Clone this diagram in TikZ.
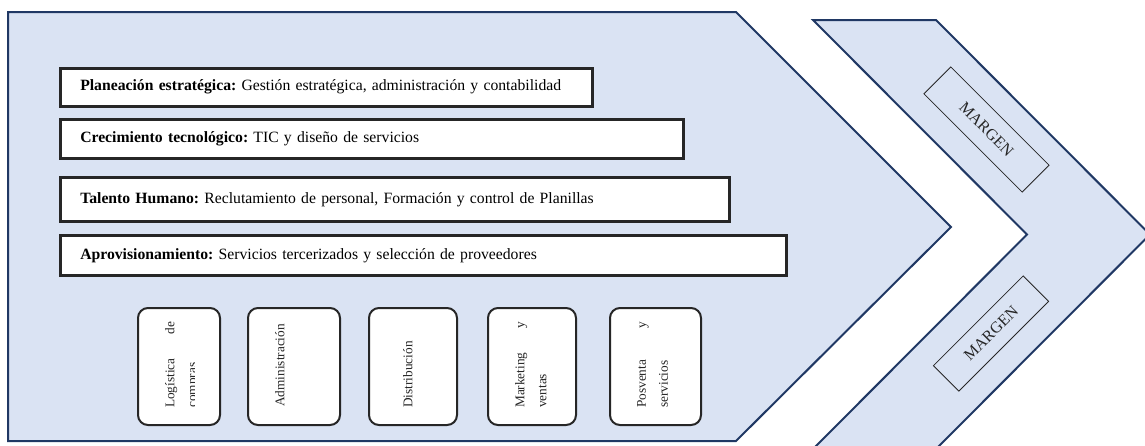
\documentclass[tikz,border=0pt]{standalone}
\usepackage{fontspec}
\setmainfont{Liberation Serif}
\usetikzlibrary{shapes, arrows.meta}
\definecolor{chevfill}{HTML}{DAE3F3}
\definecolor{chevline}{HTML}{203864}
\definecolor{boxline}{HTML}{262626}

\begin{document}
\hyphenpenalty=10000
\frenchspacing
\begin{tikzpicture}[x=1pt, y=-1pt,
    chev/.style={draw=chevline, fill=chevfill, line width=2pt, line join=miter},
    bar/.style={draw=boxline, fill=white, line width=2.5pt, anchor=north west,
        inner xsep=20pt, inner ysep=0pt, align=left, font=\fontsize{15.7}{18}\selectfont},
    actbox/.style={draw=boxline, fill=white, line width=2pt, rounded corners=10pt,
        anchor=north west, inner sep=0pt},
    vtext/.style={rotate=90, anchor=north west, inner sep=0pt, text width=86pt,
        align=justify, text=boxline, font=\fontsize{13.3}{22}\selectfont},
    margen/.style={draw=boxline, line width=0.8pt, inner sep=0pt, text=boxline,
        font=\fontsize{16}{18}\selectfont}]
            \useasboundingbox (0,0) rectangle (1145,445);
            \clip (0,0) rectangle (1145,445);

            % chevrons
            \draw[chev] (8,12) -- (736,12) -- (951,227) -- (736,441) -- (8,441) -- cycle;
            \draw[chev] (813,20) -- (936,20) -- (1150,234.5) -- (936,449) -- (813,449) -- (1027,234.5) -- cycle;

            % support activities
            \node[bar, text width=492pt, minimum height=38pt] (plan) at (59,67)
                {\textbf{Planeación estratégica:} Gestión estratégica, administración y contabilidad};
            \node[bar, text width=583pt, minimum height=39pt] (tec) at (59,118)
                {\textbf{Crecimiento tecnológico:} TIC y diseño de servicios};
            \node[bar, text width=629pt, minimum height=44pt] (talento) at (59,176)
                {\textbf{Talento Humano:} Reclutamiento de personal, Formación y control de Planillas};
            \node[bar, text width=686pt, minimum height=40pt] (aprov) at (59,234)
                {\textbf{Aprovisionamiento:} Servicios tercerizados y selección de proveedores};

            % primary activities
            \node[actbox, minimum width=82pt, minimum height=117pt] (log) at (137,307) {};
            \node[actbox, minimum width=92pt, minimum height=117pt] (adm) at (247,307) {};
            \node[actbox, minimum width=88pt, minimum height=117pt] (dist) at (368,307) {};
            \node[actbox, minimum width=88pt, minimum height=117pt] (mark) at (487,307) {};
            \node[actbox, minimum width=91pt, minimum height=117pt] (posv) at (609,307) {};

            \begin{scope}
                \clip (130,300) rectangle (194,430);
                \node[vtext] (logt) at (165,408) {Logística de compras};
            \end{scope}
            \node[vtext] (admt) at (275,407) {Administración};
            \node[vtext] (distt) at (403,408) {Distribución};
            \node[vtext] (markt) at (515,408) {Marketing y ventas};
            \node[vtext] (posvt) at (637,408) {Posventa y servicios};

            % margin
            \node[margen, rotate=-45, minimum width=139pt, minimum height=38pt] (marg1) at (986.5,129.5) {MARGEN};
            \node[margen, rotate=45, minimum width=127pt, minimum height=36pt] (marg2) at (991,333.5) {MARGEN};
    	\end{tikzpicture}
\end{document}
